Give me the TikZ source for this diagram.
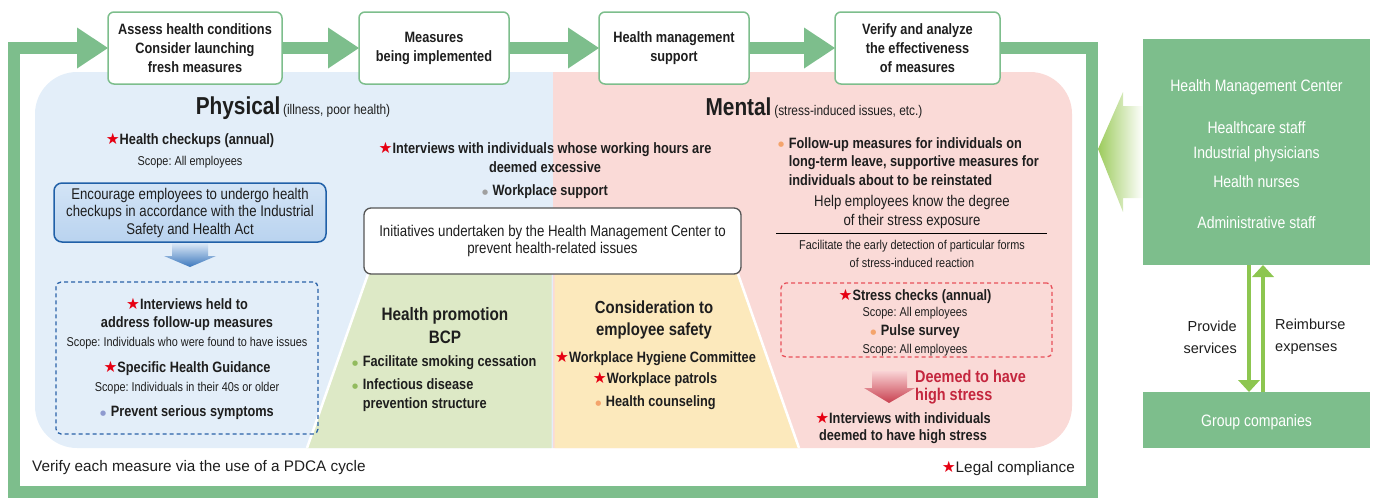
\documentclass[tikz,border=0pt]{standalone}
\usepackage{fontspec}
\setmainfont{Liberation Sans}
\newfontfamily\hc[FakeStretch=0.85]{Liberation Sans}
\newfontfamily\djv{DejaVu Sans}
\usetikzlibrary{arrows.meta}
\frenchspacing
\definecolor{framegreen}{HTML}{7DBE8C}
\definecolor{arrowgreen}{HTML}{8DC650}
\definecolor{lgreenarrow}{HTML}{9CCB5C}
\definecolor{panelblue}{HTML}{E3EEF9}
\definecolor{panelpink}{HTML}{FADAD7}
\definecolor{trapgreen}{HTML}{DDE9C6}
\definecolor{trapyellow}{HTML}{FCE9BC}
\definecolor{boxbluetop}{HTML}{D3E4F6}
\definecolor{boxbluebot}{HTML}{B9D3EF}
\definecolor{boxblueline}{HTML}{2060A8}
\definecolor{dashblue}{HTML}{2A62A8}
\definecolor{dashred}{HTML}{E8505A}
\definecolor{starred}{HTML}{E60012}
\definecolor{crimson}{HTML}{C4263E}
\definecolor{bulgray}{HTML}{A0A0A0}
\definecolor{bulpurple}{HTML}{8E9ACF}
\definecolor{bulgreen}{HTML}{92BB5E}
\definecolor{bulorange}{HTML}{F4A46C}
\definecolor{txt}{HTML}{1E1E1E}
\definecolor{initline}{HTML}{555555}
\definecolor{arrblue}{HTML}{3D78BD}
\definecolor{arrbluetop}{HTML}{DCE9F7}
\definecolor{arrpink}{HTML}{C8404F}
\definecolor{arrpinktop}{HTML}{F9D3D5}
\newcommand\rst{\textcolor{starred}{\djv\fontsize{15.5}{15}\selectfont ★}}
\newcommand\bul[1]{\textcolor{#1}{\raisebox{0.1em}{\djv\fontsize{7}{7}\selectfont ●}}\hspace{0.3em}}
\tikzset{
  gline/.style={draw=framegreen, line width=12pt, line join=miter},
  gtip/.style={-{Triangle[length=31pt,width=41pt,line width=0pt]}},
  topbox/.style={draw=framegreen, line width=1.5pt, fill=white, rounded corners=6pt, inner sep=0pt, outer sep=0pt, minimum height=72pt, align=center, text=txt, font=\hc\bfseries\fontsize{15}{19}\selectfont},
  item/.style={inner sep=0pt, align=center, text=txt, font=\hc\bfseries\fontsize{15}{18.5}\selectfont},
  scopeline/.style={inner sep=0pt, align=center, text=txt, font=\hc\fontsize{12.8}{14}\selectfont},
  headtxt/.style={inner sep=0pt, align=center, text=txt, font=\hc\bfseries\fontsize{18}{23}\selectfont},
  medtxt/.style={inner sep=0pt, align=center, text=txt, font=\hc\fontsize{15.5}{19}\selectfont},
  smalltxt/.style={inner sep=0pt, align=center, text=txt, font=\hc\fontsize{12.8}{18}\selectfont},
  bluebox/.style={draw=boxblueline, line width=1.5pt, top color=boxbluetop, bottom color=boxbluebot, rounded corners=8pt, inner sep=0pt, minimum width=272pt, minimum height=59pt, align=center, text=txt, font=\hc\fontsize{15.5}{17.5}\selectfont},
  dashbox/.style={draw=#1, line width=1.3pt, dash pattern=on 4pt off 3pt, rounded corners=5pt, inner sep=0pt},
  initbox/.style={draw=initline, line width=1.3pt, fill=white, rounded corners=7pt, inner sep=0pt, minimum width=377pt, minimum height=66pt, align=center, text=txt, font=\hc\fontsize{15.6}{17}\selectfont},
  gbox/.style={fill=framegreen, inner sep=0pt, outer sep=0pt},
  wtxt/.style={inner sep=0pt, text=white, font=\hc\fontsize{16.5}{20}\selectfont},
  plain/.style={inner sep=0pt, text=txt, font=\fontsize{14.5}{22}\selectfont},
  garrow/.style={draw=arrowgreen, line width=4pt, -{Triangle[length=12pt,width=22pt,line width=0pt]}},
}
\begin{document}
\begin{tikzpicture}[x=1pt,y=-1pt]
\useasboundingbox (0,0) rectangle (1375,498);
% panels
\begin{scope}
  \clip (0,0) rectangle (553,498);
  \fill[panelblue, rounded corners=42pt] (35,72) rectangle (1072,448);
\end{scope}
\begin{scope}
  \clip (553,0) rectangle (1375,498);
  \fill[panelpink, rounded corners=42pt] (35,72) rectangle (1072,448);
\end{scope}
% trapezoid
\fill[trapgreen] (368,274) -- (551.5,274) -- (551.5,448) -- (307,448) -- cycle;
\fill[trapyellow] (554.5,274) -- (738,274) -- (799,448) -- (554.5,448) -- cycle;
\draw[white, line width=2.5pt] (368,274) -- (307,448) (738,274) -- (799,448);

% top boxes
\node[topbox, minimum width=174pt] (b1) at (195,48) {Assess health conditions\\Consider launching\\fresh measures};
\node[topbox, minimum width=150pt] (b2) at (434,48) {Measures\\being implemented};
\node[topbox, minimum width=150pt] (b3) at (674,48) {Health management\\support};
\node[topbox, minimum width=165pt] (b4) at (917.5,48) {Verify and analyze\\the effectiveness\\of measures};
\coordinate (c1) at (1092,48);
\coordinate (c2) at (1092,492);
\coordinate (c3) at (14,492);
\coordinate (c4) at (14,48);
\draw[gline, gtip] (b4.east) -- (c1) -- (c2) -- (c3) -- (c4) -- (b1.west);
\draw[gline, gtip] (b1.east) -- (b2.west);
\draw[gline, gtip] (b2.east) -- (b3.west);
\draw[gline, gtip] (b3.east) -- (b4.west);

% titles
\node[inner sep=0pt, text=txt] (phys) at (293,108) {{\hc\bfseries\fontsize{24.5}{24}\selectfont Physical} {\hc\fontsize{14}{14}\selectfont (illness, poor health)}};
\node[inner sep=0pt, text=txt] (ment) at (814,108) {{\hc\bfseries\fontsize{24.5}{24}\selectfont Mental} {\hc\fontsize{14}{14}\selectfont (stress-induced issues, etc.)}};

% physical column
\node[item] (hc1) at (190,140) {\rst Health checkups (annual)};
\node[scopeline] (hc2) at (190,162) {Scope: All employees};
\node[bluebox] (enc) at (190,212.5) {Encourage employees to undergo health\\checkups in accordance with the Industrial\\Safety and Health Act};
\shade[top color=arrbluetop, bottom color=arrblue] (172,243) -- (208,243) -- (208,256) -- (216,256) -- (190,267) -- (164,256) -- (172,256) -- cycle;
\node[dashbox=dashblue, minimum width=262pt, minimum height=152pt] (fu) at (187,358) {};
\node[item] (fu1) at (187,314.5) {\rst Interviews held to\\address follow-up measures};
\node[scopeline] (fu2) at (187,343) {Scope: Individuals who were found to have issues};
\node[item] (fu3) at (187,368) {\rst Specific Health Guidance};
\node[scopeline] (fu4) at (187,388) {Scope: Individuals in their 40s or older};
\node[item] (fu5) at (187,413) {\bul{bulpurple}Prevent serious symptoms};

% centre
\node[item] (ov1) at (545,157.5) {\rst Interviews with individuals whose working hours are\\deemed excessive};
\node[item] (ws) at (545,192) {\bul{bulgray}Workplace support};
\node[initbox] (init) at (552.5,241) {Initiatives undertaken by the Health Management Center to\\prevent health-related issues};
\node[headtxt] (hp) at (445,325.5) {Health promotion\\BCP};
\node[item, anchor=west, align=left] (hp1) at (352,363) {\bul{bulgreen}Facilitate smoking cessation};
\node[item, anchor=west, align=left] (hp2) at (352,395) {\bul{bulgreen}Infectious disease\\\hphantom{\bul{bulgreen}}prevention structure};
\node[headtxt, font=\hc\bfseries\fontsize{17.5}{22}\selectfont] (cs) at (654,320) {Consideration to\\employee safety};
\node[item] (cs1) at (655.5,358) {\rst Workplace Hygiene Committee};
\node[item] (cs2) at (655,379) {\rst Workplace patrols};
\node[item] (cs3) at (655.5,403) {\bul{bulorange}Health counseling};

% mental column
\node[item, anchor=west, align=left] (mt1) at (778,161.5) {\bul{bulorange}Follow-up measures for individuals on\\\hphantom{\bul{bulorange}}long-term leave, supportive measures for\\\hphantom{\bul{bulorange}}individuals about to be reinstated};
\node[medtxt] (mt2) at (912,211.5) {Help employees know the degree\\of their stress exposure};
\draw[black, line width=0.8pt] (776,233) -- (1047,233);
\node[smalltxt] (mt3) at (912,254) {Facilitate the early detection of particular forms\\of stress-induced reaction};
\node[dashbox=dashred, minimum width=271pt, minimum height=74pt] (sc) at (916.5,320) {};
\node[item] (sc1) at (915,296) {\rst Stress checks (annual)};
\node[scopeline] (sc2) at (915,313) {Scope: All employees};
\node[item] (sc3) at (915,332) {\bul{bulorange}Pulse survey};
\node[scopeline] (sc4) at (915,350) {Scope: All employees};
\shade[top color=arrpinktop, bottom color=arrpink] (872,371) -- (907,371) -- (907,388) -- (915,388) -- (889,403) -- (864,388) -- (872,388) -- cycle;
\node[inner sep=0pt, anchor=west, align=left, text=crimson, font=\hc\bfseries\fontsize{17}{18}\selectfont] (hs) at (915,387) {Deemed to have\\high stress};
\node[item, font=\hc\bfseries\fontsize{15}{17}\selectfont] (hs1) at (903,427.5) {\rst Interviews with individuals\\deemed to have high stress};

% bottom notes
\node[plain, anchor=west, font=\fontsize{15.3}{22}\selectfont] (pdca) at (32,468) {Verify each measure via the use of a PDCA cycle};
\node[plain, anchor=east, font=\fontsize{15.3}{22}\selectfont] (legal) at (1075,468) {\rst Legal compliance};

% right side
\shade[left color=lgreenarrow, right color=white] (1098,149) -- (1123,92) -- (1123,106) -- (1143,106) -- (1143,198) -- (1123,198) -- (1123,212) -- cycle;
\node[gbox, minimum width=227pt, minimum height=226pt] (hmc) at (1256.5,152) {};
\node[wtxt] (h1) at (1256.5,87) {Health Management Center};
\node[wtxt] (h2) at (1256.5,128) {Healthcare staff};
\node[wtxt] (h3) at (1256.5,154) {Industrial physicians};
\node[wtxt] (h4) at (1256.5,182) {Health nurses};
\node[wtxt] (h5) at (1256.5,223) {Administrative staff};
\node[gbox, minimum width=227pt, minimum height=56pt] (gc) at (1256.5,420) {};
\node[wtxt] (gct) at (1256.5,422) {Group companies};
\draw[garrow] ([xshift=-7.5pt]hmc.south) -- ([xshift=-7.5pt]gc.north);
\draw[garrow] ([xshift=6.5pt]gc.north) -- ([xshift=6.5pt]hmc.south);
\node[plain, anchor=east, align=right] (prov) at (1237,337) {Provide\\services};
\node[plain, anchor=west, align=left] (reim) at (1275,337) {Reimburse\\expenses};
\end{tikzpicture}
\end{document}
